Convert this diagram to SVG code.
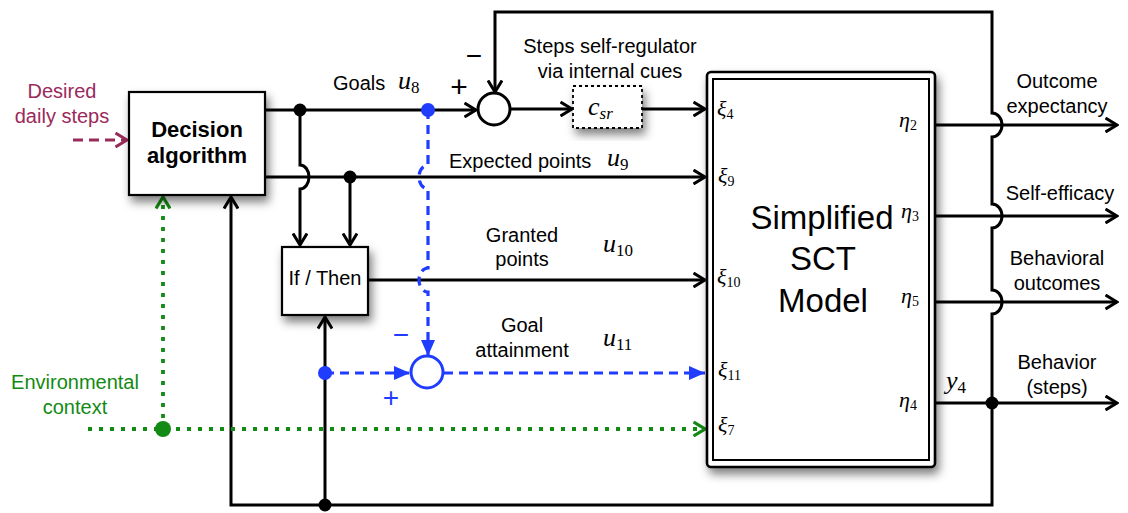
<svg xmlns="http://www.w3.org/2000/svg" width="1128" height="513" viewBox="0 0 1128 513">
<style>
.ln{fill:none;stroke:#000;stroke-width:3}
.bl{fill:none;stroke:#1f3cff;stroke-width:3.2;stroke-dasharray:9 6}
.gr{fill:none;stroke:#138a13;stroke-width:3.8;stroke-dasharray:4 7}
.mr{fill:none;stroke:#9a2a5a;stroke-width:3;stroke-dasharray:10 6}
.box{fill:#fff;stroke:#000;stroke-width:2.2}
.t{font-family:"Liberation Sans",Arial,sans-serif;font-size:20px;fill:#000}
.c{text-anchor:middle}
.b{font-weight:bold;font-size:22px}
.big{font-size:33px}
.mi{font-family:"Liberation Serif","Times New Roman",serif;font-style:italic;font-size:26px;fill:#000}
.ms{font-family:"Liberation Serif","Times New Roman",serif;font-style:italic;font-size:22px;fill:#000}
.sub{font-style:normal;font-size:17px}
.sub2{font-style:normal;font-size:14px}
</style>
<defs>
<filter id="sh" x="-20%" y="-20%" width="150%" height="150%">
<feDropShadow dx="3" dy="6" stdDeviation="5" flood-color="#000" flood-opacity="0.5"/>
</filter>
<marker id="ak" viewBox="0 0 14 16" refX="12.5" refY="8" markerWidth="14" markerHeight="16" markerUnits="userSpaceOnUse" orient="auto">
<path d="M1,1 L12.5,8 L1,15" fill="none" stroke="#000" stroke-width="3"/>
</marker>
<marker id="ag" viewBox="0 0 14 16" refX="12.5" refY="8" markerWidth="14" markerHeight="16" markerUnits="userSpaceOnUse" orient="auto">
<path d="M1,1 L12.5,8 L1,15" fill="none" stroke="#138a13" stroke-width="3.2"/>
</marker>
<marker id="am" viewBox="0 0 14 16" refX="12.5" refY="8" markerWidth="14" markerHeight="16" markerUnits="userSpaceOnUse" orient="auto">
<path d="M1,1 L12.5,8 L1,15" fill="none" stroke="#9a2a5a" stroke-width="3"/>
</marker>
<marker id="ab" viewBox="0 0 16 14" refX="16" refY="7" markerWidth="16" markerHeight="14" markerUnits="userSpaceOnUse" orient="auto">
<path d="M0,0 L16,7 L0,14 z" fill="#1f3cff"/>
</marker>
</defs>
<rect width="1128" height="513" fill="#fff"/>

<g id="connectors">
<path class="mr" d="M73,140 H127" marker-end="url(#am)"/>
<path class="ln" d="M265,110 H476" marker-end="url(#ak)"/>
<path class="ln" d="M265,177 H705" marker-end="url(#ak)"/>
<path class="ln" d="M300,110 V165 A9,12 0 0 1 300,189 V245" marker-end="url(#ak)"/>
<path class="ln" d="M350,177 V245" marker-end="url(#ak)"/>
<path class="ln" d="M368,280 H705" marker-end="url(#ak)"/>
<path class="ln" d="M510,109 H572" marker-end="url(#ak)"/>
<path class="ln" d="M642,109 H705" marker-end="url(#ak)"/>
<path class="ln" d="M935,125 H1117" marker-end="url(#ak)"/>
<path class="ln" d="M935,216 H1117" marker-end="url(#ak)"/>
<path class="ln" d="M935,302 H1117" marker-end="url(#ak)"/>
<path class="ln" d="M935,403 H1117" marker-end="url(#ak)"/>
<path class="ln" d="M992,403 V314 A10,12 0 0 0 992,290 V228 A10,12 0 0 0 992,204 V137 A10,12 0 0 0 992,113 V12 H495 V92" marker-end="url(#ak)"/>
<path class="ln" d="M992,403 V505 H231 V197" marker-end="url(#ak)"/>
<path class="ln" d="M325,505 V317" marker-end="url(#ak)"/>
<path class="gr" d="M88,429 H705" marker-end="url(#ag)"/>
<path class="gr" d="M163,429 V197" marker-end="url(#ag)"/>
<path class="bl" d="M428,110 V165 A9,12 0 0 0 428,189 V268 A9,12 0 0 0 428,292 V356" marker-end="url(#ab)"/>
<path class="bl" d="M325,373 H410" marker-end="url(#ab)"/>
<path class="bl" d="M444,373 H705" marker-end="url(#ab)"/>
<circle cx="300" cy="110" r="6.5"/>
<circle cx="350" cy="177" r="6.5"/>
<circle cx="992" cy="403" r="6.5"/>
<circle cx="325" cy="505" r="6.5"/>
<circle cx="428" cy="110" r="7" fill="#1f3cff"/>
<circle cx="325" cy="373" r="7" fill="#1f3cff"/>
<circle cx="163" cy="429" r="8" fill="#138a13"/>
</g>

<g id="decision">
<rect class="box" x="129" y="92" width="136" height="103" filter="url(#sh)"/>
<text class="t c b" x="197" y="137">Decision</text>
<text class="t c b" x="197" y="163">algorithm</text>
</g>

<g id="ifthen">
<rect class="box" x="282" y="247" width="86" height="68" filter="url(#sh)"/>
<text class="t c" x="325" y="285">If / Then</text>
</g>

<g id="sum1">
<circle cx="494" cy="109" r="16" fill="#fff" stroke="#000" stroke-width="3"/>
<text class="t c" x="459" y="97" style="font-size:30px">+</text>
<text class="t c" x="474" y="65" style="font-size:28px">−</text>
</g>

<g id="csr">
<rect x="573" y="86" width="69" height="42" fill="#fff" stroke="#000" stroke-width="1.8" stroke-dasharray="3 3" filter="url(#sh)"/>
<text class="mi" x="588" y="115">c<tspan class="sub" style="font-style:italic" dy="4">sr</tspan></text>
</g>

<g id="sum2">
<circle cx="427" cy="372" r="16" fill="#fff" stroke="#1f3cff" stroke-width="3"/>
<text class="t c" x="401" y="344" style="font-size:28px;fill:#1f3cff">−</text>
<text class="t c" x="391" y="407" style="font-size:28px;fill:#1f3cff">+</text>
</g>

<g id="sct">
<rect x="707" y="72" width="228" height="395" rx="4" fill="#fff" stroke="#000" stroke-width="2.6" filter="url(#sh)"/>
<rect x="713" y="79" width="216" height="381" fill="none" stroke="#000" stroke-width="2"/>
<text class="t c big" x="822" y="229">Simplified</text>
<text class="t c big" x="823" y="270">SCT</text>
<text class="t c big" x="823" y="312">Model</text>
<text class="ms" x="717" y="116">ξ<tspan class="sub2" dy="3">4</tspan></text>
<text class="ms" x="718" y="183">ξ<tspan class="sub2" dy="3">9</tspan></text>
<text class="ms" x="717" y="284">ξ<tspan class="sub2" dy="3">10</tspan></text>
<text class="ms" x="718" y="377">ξ<tspan class="sub2" dy="3">11</tspan></text>
<text class="ms" x="718" y="432">ξ<tspan class="sub2" dy="3">7</tspan></text>
<text class="ms" x="899" y="127">η<tspan class="sub2" dy="3">2</tspan></text>
<text class="ms" x="901" y="218">η<tspan class="sub2" dy="3">3</tspan></text>
<text class="ms" x="901" y="303">η<tspan class="sub2" dy="3">5</tspan></text>
<text class="ms" x="899" y="407">η<tspan class="sub2" dy="3">4</tspan></text>
</g>

<g id="labels">
<text class="t c" x="62" y="98" style="fill:#9a2a5a">Desired</text>
<text class="t c" x="62" y="123" style="fill:#9a2a5a">daily steps</text>
<text class="t c" x="75" y="389" style="fill:#138a13">Environmental</text>
<text class="t c" x="75" y="414" style="fill:#138a13">context</text>
<text class="t" x="333" y="90">Goals</text>
<text class="mi" x="398" y="89">u<tspan class="sub" dy="4">8</tspan></text>
<text class="t c" x="610" y="53">Steps self-regulator</text>
<text class="t c" x="610" y="78">via internal cues</text>
<text class="t" x="449" y="168">Expected points</text>
<text class="mi" x="607" y="166">u<tspan class="sub" dy="4">9</tspan></text>
<text class="t c" x="522" y="242">Granted</text>
<text class="t c" x="522" y="266">points</text>
<text class="mi" x="603" y="252">u<tspan class="sub" dy="4">10</tspan></text>
<text class="t c" x="522" y="332">Goal</text>
<text class="t c" x="522" y="357">attainment</text>
<text class="mi" x="603" y="346">u<tspan class="sub" dy="4">11</tspan></text>
<text class="mi" x="946" y="389">y<tspan class="sub" dy="4">4</tspan></text>
<text class="t c" x="1057" y="88">Outcome</text>
<text class="t c" x="1057" y="113">expectancy</text>
<text class="t c" x="1060" y="200">Self-efficacy</text>
<text class="t c" x="1057" y="265">Behavioral</text>
<text class="t c" x="1057" y="290">outcomes</text>
<text class="t c" x="1057" y="369">Behavior</text>
<text class="t c" x="1057" y="394">(steps)</text>
</g>
</svg>
